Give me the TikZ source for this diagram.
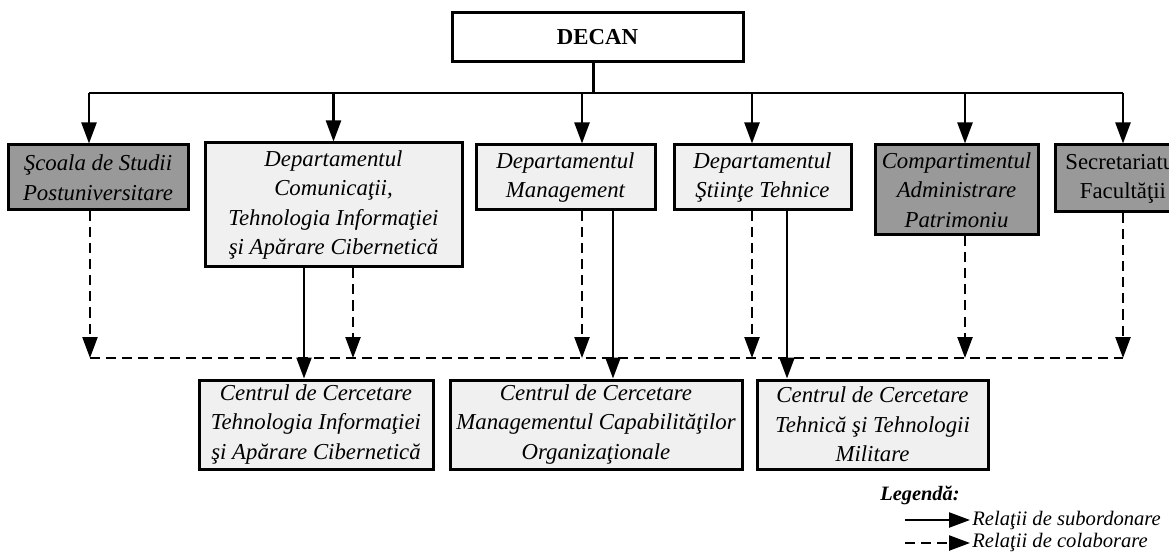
\documentclass[tikz,border=0pt]{standalone}
\usepackage{fontspec}
\setmainfont{Liberation Serif}
\usepackage{xcolor}
\usepackage{tikz}
\usetikzlibrary{calc,arrows.meta}

\definecolor{darkfill}{gray}{0.6}
\definecolor{lightfill}{gray}{0.94}
\newcommand{\boxfont}{\fontsize{11.4pt}{14.75pt}\selectfont}

\tikzset{
    unit/.style={draw, line width=1.5pt, align=center, inner sep=0pt, font=\boxfont\itshape},
    lightunit/.style={unit, fill=lightfill},
    darkunit/.style={unit, fill=darkfill},
    sub/.style={line width=1.2pt, -{Triangle[length=10.5pt,width=7.5pt]}},
    colab/.style={sub, dash pattern=on 5pt off 3pt},
}

\begin{document}
\begin{tikzpicture}[x=0.5pt, y=-0.5pt]
            \useasboundingbox (0,0) rectangle (1169,556);

            \node[unit, fill=white, font=\boxfont\bfseries, minimum width=145.5pt, minimum height=24.5pt] (decan) at (597.5,37.5) {DECAN};

            \node[darkunit, minimum width=90pt, minimum height=32.5pt] (scoala) at (98,177.5) {Şcoala de Studii\\Postuniversitare};
            \node[lightunit, minimum width=128.5pt, minimum height=62pt] (dcom) at (333.5,205) {Departamentul\\Comunicaţii,\\Tehnologia Informaţiei\\şi Apărare Cibernetică};
            \node[lightunit, minimum width=89.5pt, minimum height=32.5pt] (dmgmt) at (565.5,177.5) {Departamentul\\Management};
            \node[lightunit, minimum width=88.5pt, minimum height=32.5pt] (dst) at (762.5,177.5) {Departamentul\\Ştiinţe Tehnice};
            \node[darkunit, minimum width=81.5pt, minimum height=45pt] (cadm) at (956.5,190) {Compartimentul\\Administrare\\Patrimoniu};
            \node[darkunit, font=\boxfont, minimum width=68pt, minimum height=33.5pt] (secr) at (1123,178.5) {Secretariatul\\Facultăţii};

            \node[lightunit, minimum width=117pt, minimum height=44.5pt] (cc1) at (316,424.5) {Centrul de Cercetare\\Tehnologia Informaţiei\\şi Apărare Cibernetică};
            \node[lightunit, minimum width=146pt, minimum height=44.5pt] (cc2) at (596,424.5) {Centrul de Cercetare\\Managementul Capabilităţilor\\Organizaţionale};
            \node[lightunit, minimum width=115.5pt, minimum height=44.5pt] (cc3) at (872.5,424.5) {Centrul de Cercetare\\Tehnică şi Tehnologii\\Militare};

            \coordinate (bus) at (0,93);
            \coordinate (colline) at (0,358);

            \draw[line width=1.2pt] ([xshift=-2pt]decan.south) -- ([xshift=-2pt]decan.south |- bus);
            \draw[line width=1.2pt] ([xshift=-4.5pt]scoala.north |- bus) -- (secr.north |- bus);
            \foreach \n/\dx in {scoala/-4.5pt, dcom/0pt, dmgmt/8.25pt, dst/-5.25pt, cadm/4.25pt, secr/0pt}
                \draw[sub] ([xshift=\dx]\n.north |- bus) -- ([xshift=\dx]\n.north);

            \draw[line width=1.2pt, dash pattern=on 5pt off 3pt] ([xshift=-4pt]scoala.south |- colline) -- (secr.south |- colline);
            \foreach \n/\dx in {scoala/-4pt, dcom/9.75pt, dmgmt/8.25pt, dst/-5.25pt, cadm/4.25pt, secr/0pt}
                \draw[colab] ([xshift=\dx]\n.south) -- ([xshift=\dx]\n.south |- colline);

            \foreach \a/\b/\dx in {dcom/cc1/-14.75pt, dmgmt/cc2/23.75pt, dst/cc3/12.25pt}
                \draw[sub] ([xshift=\dx]\a.south) -- ([xshift=\dx]\a.south |- \b.north);

            \node[font=\fontsize{10.2pt}{12pt}\selectfont\bfseries\itshape] (legend) at (920,495) {Legendă:};
            \node[anchor=west, inner sep=1pt, font=\fontsize{10.3pt}{12pt}\selectfont\itshape] (lsub) at (970,520) {Relaţii de subordonare};
            \node[anchor=west, inner sep=1pt, font=\fontsize{10.3pt}{12pt}\selectfont\itshape] (lcol) at (970,543) {Relaţii de colaborare};
            \draw[sub] ([xshift=-32.5pt]lsub.west) -- (lsub.west);
            \draw[colab] ([xshift=-32.5pt]lcol.west) -- (lcol.west);
        \end{tikzpicture}
\end{document}
